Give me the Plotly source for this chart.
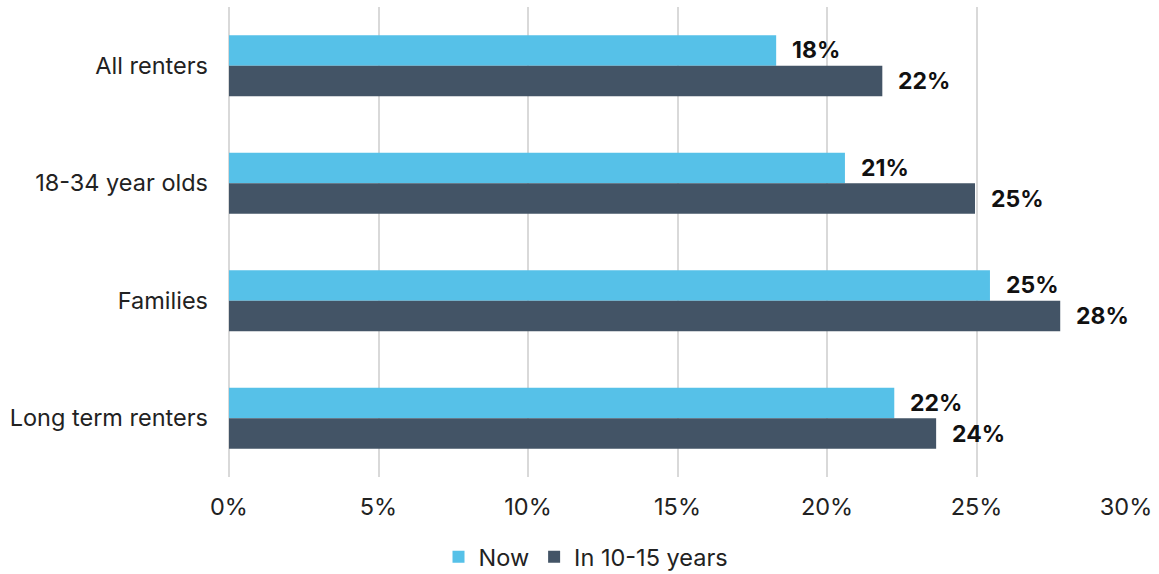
import plotly.graph_objects as go

categories = ["All renters", "18-34 year olds", "Families", "Long term renters"]
now_values = [0.183, 0.206, 0.2545, 0.2225]
future_values = [0.2185, 0.2495, 0.278, 0.2365]
series_names = ["Now", "In 10-15 years"]
tick_values = [0, 0.05, 0.10, 0.15, 0.20, 0.25, 0.30]

NOW_COLOR = "#56C1E8"
FUTURE_COLOR = "#435466"
FONT = "Inter, Roboto, sans-serif"

fig = go.Figure()
fig.add_trace(go.Bar(y=categories, x=now_values, orientation="h", name=series_names[0],
                     marker=dict(color=NOW_COLOR, line=dict(width=0))))
fig.add_trace(go.Bar(y=categories, x=future_values, orientation="h", name=series_names[1],
                     marker=dict(color=FUTURE_COLOR, line=dict(width=0))))

# value labels to the right of each bar
n = len(categories)
for values, shift in ((now_values, -1), (future_values, 1)):
    for i, (cat, v) in enumerate(zip(categories, values)):
        fig.add_annotation(x=v, y=i + shift * 0.13, xref="x", yref="y",
                           text=f"<b>{round(v * 100):.0f}%</b>", showarrow=False,
                           xanchor="left", xshift=14,
                           font=dict(family=FONT, size=23, color="#111111"))

fig.update_layout(
    width=1159, height=574,
    margin=dict(l=229, r=33, t=7, b=97, autoexpand=False),
    barmode="group", bargap=0.48, bargroupgap=0,
    plot_bgcolor="white", paper_bgcolor="white",
    font=dict(family=FONT, size=23.5, color="#222222"),
    showlegend=True,
    legend=dict(orientation="h", xref="paper", x=0.398, xanchor="center",
                y=-0.17, yanchor="middle", font=dict(size=23.5),
                traceorder="normal"),
)
fig.update_xaxes(range=[0, 0.30], tickvals=tick_values, tickformat=".0%",
                 tickangle=0,
                 showgrid=True, gridcolor="#D9D9D9", gridwidth=2,
                 zeroline=True, zerolinecolor="#D9D9D9", zerolinewidth=2,
                 showline=False, ticks="", ticklabelstandoff=13)
fig.update_yaxes(type="category", categoryorder="array", categoryarray=categories,
                 range=[n - 0.5, -0.5], showgrid=False, zeroline=False,
                 showline=False, ticks="", ticklabelstandoff=20)

fig.write_html("out.html")
